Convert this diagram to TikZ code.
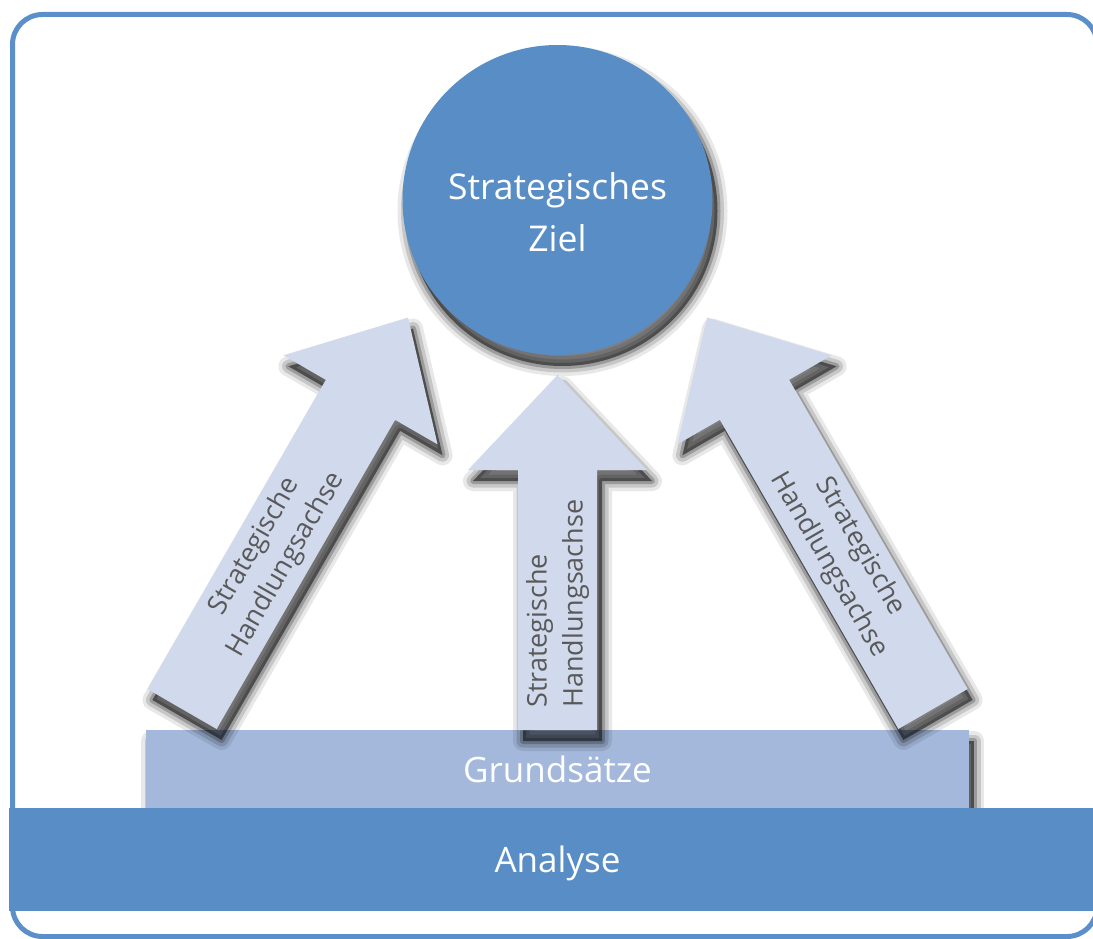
\documentclass[tikz,border=0pt]{standalone}
\usepackage{fontspec}
\setmainfont{Open Sans}
\definecolor{mainblue}{HTML}{588DC6}
\definecolor{framblue}{HTML}{5B8FC9}
\definecolor{grundblue}{HTML}{A3B8DB}
\definecolor{arrowfill}{HTML}{D0DAEC}
\definecolor{arrowtext}{HTML}{595959}
\tikzset{
  shadowshift/.style={transform canvas={xshift=5pt, yshift=-11pt}},
  softshadow/.style={
    preaction={draw=black, line width=20pt, line join=round, draw opacity=0.09, shadowshift},
    preaction={draw=black, line width=13pt, line join=round, draw opacity=0.14, shadowshift},
    preaction={draw=black, line width=6pt, line join=round, draw opacity=0.22, shadowshift},
    preaction={fill=black, fill opacity=0.5, shadowshift}},
  bigarrow/.style={fill=arrowfill, draw=none, softshadow},
  arrowlabel/.style={text=arrowtext, align=center, inner sep=0pt, font=\fontsize{27}{36}\selectfont},
  barbox/.style={draw=none, text=white, inner sep=0pt, text height=26pt, text depth=0pt, font=\fontsize{35}{40}\selectfont},
  zielcircle/.style={circle, fill=mainblue, draw=none, minimum size=310pt, inner sep=0pt, softshadow},
  zieltext/.style={text=white, align=center, inner sep=0pt, font=\fontsize{35.5}{52}\selectfont}
}
\begin{document}
\begin{tikzpicture}[x=1pt,y=-1pt]
\useasboundingbox (0,0) rectangle (1093,939);
\clip (0,0) rectangle (1093,939);
\fill[white] (0,0) rectangle (1093,939);
% frame
\draw[line width=5pt, draw=framblue, rounded corners=30pt] (12.5,14.5) rectangle (1097,936.5);
% Grundsaetze
\node[barbox, fill=grundblue, minimum width=823pt, minimum height=78pt, softshadow] (grund) at (557.5,769) {Grundsätze};
% left arrow
\fill[bigarrow] (147.36,689) -- (325.86,379.83) -- (283.42,355.33) -- (408,317.56) -- (437.58,444.33) -- (395.14,419.83) -- (216.64,729) -- cycle;
\node[arrowlabel, rotate=60] (lab1) at (270.5,555.7) {Strategische\\Handlungsachse};
% middle arrow
\fill[bigarrow] (518,730) -- (518,470) -- (468,470) -- (557.5,375) -- (647,470) -- (597,470) -- (597,730) -- cycle;
\node[arrowlabel, align=left, rotate=90, anchor=west] (lab2) at (557.5,708) {Strategische\\Handlungsachse};
% right arrow
\fill[bigarrow] (967.64,689) -- (789.14,379.83) -- (831.58,355.33) -- (707,317.56) -- (677.42,444.33) -- (719.86,419.83) -- (898.36,729) -- cycle;
\node[arrowlabel, rotate=-60] (lab3) at (844.5,555.7) {Strategische\\Handlungsachse};
% goal circle
\node[zielcircle] (ziel) at (557.5,200) {};
\node[zieltext] (zieltxt) at ([yshift=-12pt]ziel.center) {Strategisches\\Ziel};
% Analyse band
\node[barbox, fill=mainblue, minimum width=1100pt, minimum height=103pt, anchor=west] (analyse) at (9,859.5) {};
\node[barbox, fill=none] (analysetxt) at (557.5,859.5) {Analyse};
\end{tikzpicture}
\end{document}
